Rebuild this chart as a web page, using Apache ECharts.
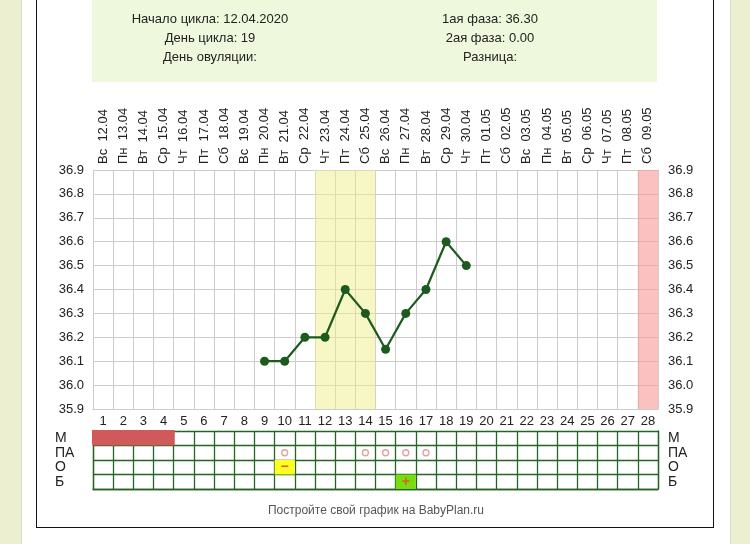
<!DOCTYPE html>
<html>
<head>
<meta charset="utf-8">
<script src="https://cdn.jsdelivr.net/npm/echarts@6/dist/echarts.min.js"></script>
<style>
  html, body { margin: 0; padding: 0; }
  body { width: 750px; height: 544px; background: #ecefd0; position: relative; overflow: hidden; }
  #panel { position: absolute; left: 21px; top: 0; width: 708px; height: 544px; background: #fff; border-left: 1px solid #dcdcd4; border-right: 1px solid #dcdcd4; }
  #frame { position: absolute; left: 36px; top: -2px; width: 676px; height: 528px; border: 1.5px solid #111; background: #fff; }
  #hdr { position: absolute; left: 92px; top: 0; width: 565px; height: 82px; background: #eef8dc; }
  #chart { position: absolute; left: 0; top: 0; width: 750px; height: 544px; }
</style>
</head>
<body>
<div id="panel"></div>
<div id="frame"></div>
<div id="hdr"></div>
<div id="chart"></div>
<script>
// ---- data ----
const days = ['1','2','3','4','5','6','7','8','9','10','11','12','13','14','15','16','17','18','19','20','21','22','23','24','25','26','27','28'];
const dates = ['Вс  12.04','Пн  13.04','Вт  14.04','Ср  15.04','Чт  16.04','Пт  17.04','Сб  18.04','Вс  19.04','Пн  20.04','Вт  21.04','Ср  22.04','Чт  23.04','Пт  24.04','Сб  25.04','Вс  26.04','Пн  27.04','Вт  28.04','Ср  29.04','Чт  30.04','Пт  01.05','Сб  02.05','Вс  03.05','Пн  04.05','Вт  05.05','Ср  06.05','Чт  07.05','Пт  08.05','Сб  09.05'];
const temps = [null,null,null,null,null,null,null,null,36.1,36.1,36.2,36.2,36.4,36.3,36.15,36.3,36.4,36.6,36.5,null,null,null,null,null,null,null,null,null];
const yellowDays = ['12','13','14'];
const pinkDays = ['28'];
const rows = ['Б','О','ПА','М'];
const mDays = ['1','2','3','4'];
const paDays = ['10','14','15','16','17'];
const oMinusDays = ['10'];
const bPlusDays = ['16'];
const headerLeft = ['Начало цикла: 12.04.2020','День цикла: 19','День овуляции:'];
const headerRight = ['1ая фаза: 36.30','2ая фаза: 0.00','Разница:'];
const footer = 'Постройте свой график на BabyPlan.ru';

const FONT = 'Liberation Sans, Arial, sans-serif';
const chart = echarts.init(document.getElementById('chart'), null, {renderer: 'canvas'});

const bandData = days.map(d => {
  if (yellowDays.includes(d)) return {value: 36.9, itemStyle: {color: 'rgba(240,240,140,0.5)'}};
  if (pinkDays.includes(d)) return {value: 36.9, itemStyle: {color: 'rgba(248,150,150,0.6)'}};
  return null;
});

const cellData = [];
mDays.forEach(d => cellData.push({value: [d, 'М'], fill: '#d05a5a', mark: '', pad: 1}));
oMinusDays.forEach(d => cellData.push({value: [d, 'О'], fill: '#ffff22', mark: '−', pad: 0}));
bPlusDays.forEach(d => cellData.push({value: [d, 'Б'], fill: '#77dd11', mark: '+', pad: 0}));

const gridLineColor = '#cccccc';
const tableLineColor = '#246424';

const option = {
  animation: false,
  backgroundColor: 'transparent',
  textStyle: {fontFamily: FONT},
  graphic: [
    ...headerLeft.map((t, i) => ({type: 'text', x: 210, y: 19 + i * 19, style: {text: t, font: '13px ' + FONT, fill: '#222', textAlign: 'center', textVerticalAlign: 'middle'}})),
    ...headerRight.map((t, i) => ({type: 'text', x: 490, y: 19 + i * 19, style: {text: t, font: '13px ' + FONT, fill: '#222', textAlign: 'center', textVerticalAlign: 'middle'}})),
    {type: 'text', x: 376, y: 511, style: {text: footer, font: '12px ' + FONT, fill: '#555', textAlign: 'center', textVerticalAlign: 'middle'}}
  ],
  grid: [
    {left: 93, right: 92, top: 170, bottom: 135, show: false},
    {left: 93, right: 92, top: 431, height: 58, show: false}
  ],
  xAxis: [
    {type: 'category', gridIndex: 0, data: days, position: 'bottom', boundaryGap: true,
     axisLine: {show: true, lineStyle: {color: gridLineColor}}, axisTick: {show: false},
     axisLabel: {color: '#222', fontSize: 13, margin: 6, interval: 0},
     splitLine: {show: true, interval: 0, lineStyle: {color: gridLineColor, width: 1}}},
    {type: 'category', gridIndex: 0, data: dates, position: 'top', boundaryGap: true,
     axisLine: {show: false}, axisTick: {show: false},
     axisLabel: {color: '#222', fontSize: 13, rotate: -90, margin: 6, interval: 0}},
    {type: 'category', gridIndex: 1, data: days, boundaryGap: true,
     axisLine: {show: true, lineStyle: {color: tableLineColor, width: 1.3}}, axisTick: {show: false}, axisLabel: {show: false},
     splitLine: {show: true, interval: 0, lineStyle: {color: tableLineColor, width: 1.3}}}
  ],
  yAxis: [
    {type: 'value', gridIndex: 0, min: 35.9, max: 36.9, interval: 0.1, position: 'left',
     axisLine: {show: true, lineStyle: {color: gridLineColor}}, axisTick: {show: false},
     axisLabel: {color: '#222', fontSize: 13, margin: 9, formatter: v => v.toFixed(1)},
     splitLine: {show: true, lineStyle: {color: gridLineColor, width: 1}}},
    {type: 'value', gridIndex: 0, min: 35.9, max: 36.9, interval: 0.1, position: 'right',
     axisLine: {show: true, lineStyle: {color: gridLineColor}}, axisTick: {show: false},
     axisLabel: {color: '#222', fontSize: 13, margin: 10, formatter: v => v.toFixed(1)},
     splitLine: {show: false}},
    {type: 'category', gridIndex: 1, data: rows, position: 'left', boundaryGap: true,
     axisLine: {show: true, lineStyle: {color: tableLineColor, width: 1.3}}, axisTick: {show: false},
     axisLabel: {color: '#222', fontSize: 14, margin: 38, align: 'left', interval: 0},
     splitLine: {show: true, interval: 0, lineStyle: {color: tableLineColor, width: 1.3}}},
    {type: 'category', gridIndex: 1, data: rows, position: 'right', boundaryGap: true,
     axisLine: {show: true, lineStyle: {color: tableLineColor, width: 1.3}}, axisTick: {show: false},
     axisLabel: {color: '#222', fontSize: 14, margin: 10, align: 'left', interval: 0},
     splitLine: {show: false}}
  ],
  series: [
    {type: 'bar', xAxisIndex: 0, yAxisIndex: 0, data: bandData, barWidth: '100%', z: 3, silent: true},
    {type: 'line', xAxisIndex: 0, yAxisIndex: 0, data: temps, connectNulls: false,
     lineStyle: {color: '#1d5a1d', width: 2.2}, itemStyle: {color: '#1d5a1d'},
     symbol: 'circle', symbolSize: 9, z: 5},
    {type: 'custom', xAxisIndex: 2, yAxisIndex: 2, data: cellData, z: 3,
     renderItem: (params, api) => {
       const c = api.coord([api.value(0), api.value(1)]);
       const s = api.size([1, 1]);
       const item = cellData[params.dataIndex];
       const p = item.pad;
       return {
         type: 'group',
         children: [
           {type: 'rect', shape: {x: c[0] - s[0] / 2 - p, y: c[1] - s[1] / 2 - p, width: s[0] + 2 * p, height: s[1] + p}, style: {fill: item.fill}},
           {type: 'text', style: {text: item.mark, x: c[0], y: c[1], textAlign: 'center', textVerticalAlign: 'middle', font: 'bold 14px ' + FONT, fill: '#d2691e'}}
         ]
       };
     }},
    {type: 'scatter', xAxisIndex: 2, yAxisIndex: 2, data: paDays.map(d => [d, 'ПА']),
     symbol: 'circle', symbolSize: 6, itemStyle: {color: 'rgba(0,0,0,0)', borderColor: '#d88a8a', borderWidth: 1.3}}
  ]
};
chart.setOption(option);
</script>
</body>
</html>
